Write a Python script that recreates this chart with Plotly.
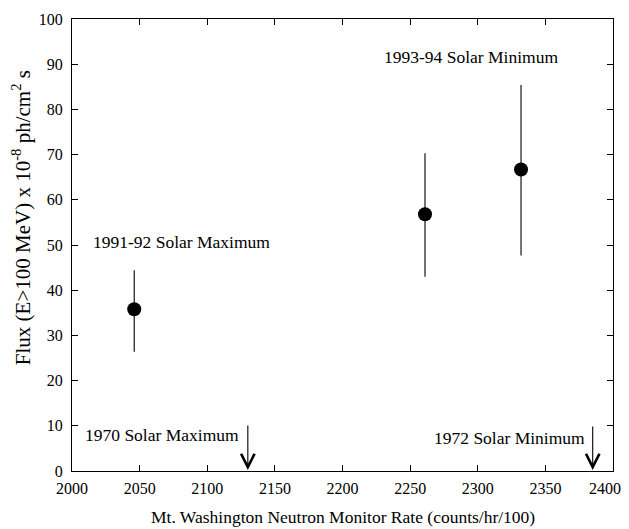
import plotly.graph_objects as go

# Data
rate = [2046, 2261, 2332]
flux = [35.8, 56.8, 66.7]
flux_hi = [44.4, 70.3, 85.4]
flux_lo = [26.4, 43.0, 47.7]

x_ticks = [2000, 2050, 2100, 2150, 2200, 2250, 2300, 2350, 2400]
y_ticks = [0, 10, 20, 30, 40, 50, 60, 70, 80, 90, 100]

arrow_x = [2130, 2385]
arrow_top = [10.4, 10.2]
arrow_bottom = [0.2, 0.2]

label_text = ["1991-92 Solar Maximum", "1993-94 Solar Minimum", "1970 Solar Maximum", "1972 Solar Minimum"]
label_x = [2081, 2295, 2125, 2381]
label_y = [50.7, 91.6, 8.0, 7.4]
label_anchor = ["center", "center", "right", "right"]

x_title = "Mt. Washington Neutron Monitor Rate (counts/hr/100)"
y_title = "Flux (E>100 MeV) x 10<sup>-8</sup> ph/cm<sup>2</sup> s"

err_plus = [h - f for h, f in zip(flux_hi, flux)]
err_minus = [f - l for f, l in zip(flux, flux_lo)]

FONT = "Liberation Serif"

# keep the last (right-edge) x tick label inside the visible page
x_ticktext = [str(v) for v in x_ticks]
x_ticktext[-1] = x_ticktext[-1] + "\u00a0" * 4

fig = go.Figure()
fig.add_trace(go.Scatter(
    x=rate, y=flux, mode="markers",
    marker=dict(color="black", size=14),
    error_y=dict(type="data", symmetric=False, array=err_plus, arrayminus=err_minus,
                 width=0, thickness=1.1, color="black"),
    showlegend=False,
))

annotations = []
for ax_, top, bot in zip(arrow_x, arrow_top, arrow_bottom):
    annotations.append(dict(
        x=ax_, y=bot, ax=ax_, ay=top, xref="x", yref="y", axref="x", ayref="y",
        showarrow=True, arrowhead=5, arrowsize=2.4, arrowwidth=1.1, arrowcolor="black", text="",
    ))
for t, x, y, a in zip(label_text, label_x, label_y, label_anchor):
    annotations.append(dict(
        x=x, y=y, xref="x", yref="y", text=t, showarrow=False, xanchor=a, yanchor="middle",
        font=dict(family=FONT, size=17.5, color="black"),
    ))
# axis titles
annotations.append(dict(
    x=0.5, y=-0.1018, xref="paper", yref="paper", text=x_title, showarrow=False,
    xanchor="center", yanchor="middle", font=dict(family=FONT, size=17.5, color="black"),
))
annotations.append(dict(
    x=-0.094, y=0.5597, xref="paper", yref="paper", text=y_title, showarrow=False,
    textangle=-90, xanchor="center", yanchor="middle",
    font=dict(family=FONT, size=21, color="black"),
))

axis_common = dict(
    showline=True, linecolor="black", linewidth=1, mirror="ticks",
    ticks="inside", ticklen=6, tickcolor="black", tickwidth=1,
    showgrid=False, zeroline=False, automargin=False,
    ticklabeloverflow="allow",
    tickfont=dict(family=FONT, size=16, color="black"),
)

fig.update_layout(
    width=621, height=521,
    margin=dict(l=64, r=16, t=11, b=58),
    paper_bgcolor="white", plot_bgcolor="white",
    annotations=annotations,
    xaxis=dict(range=[2000, 2400], tickvals=x_ticks, ticktext=x_ticktext,
               ticklabelstandoff=3, **axis_common),
    yaxis=dict(range=[0, 100], tickvals=y_ticks, ticktext=[str(v) for v in y_ticks],
               ticklabelstandoff=5, **axis_common),
)

fig.write_html("out.html")
